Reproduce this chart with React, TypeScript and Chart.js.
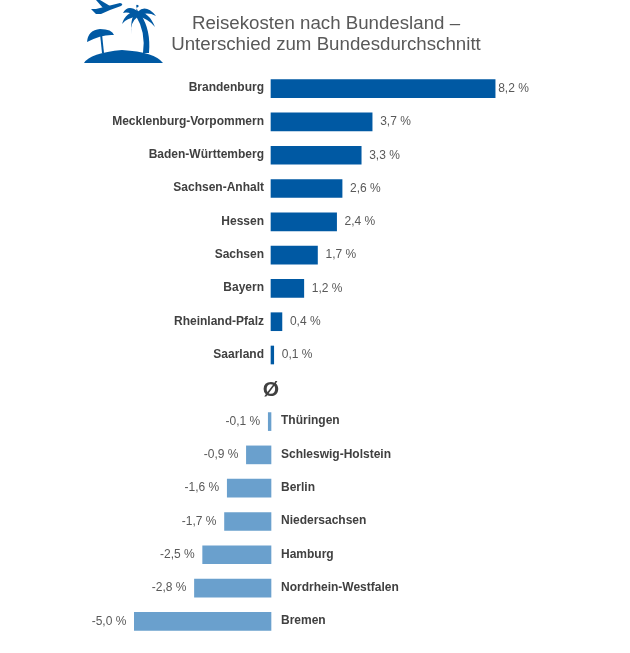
import React, { useEffect, useRef } from 'react';
import { Chart, registerables, Plugin } from 'chart.js';

Chart.register(...registerables);

const titleLines: string[] = ['Reisekosten nach Bundesland –', 'Unterschied zum Bundesdurchschnitt'];

// the empty value is the row that holds the average sign
const categories: string[] = [
  'Brandenburg',
  'Mecklenburg-Vorpommern',
  'Baden-Württemberg',
  'Sachsen-Anhalt',
  'Hessen',
  'Sachsen',
  'Bayern',
  'Rheinland-Pfalz',
  'Saarland',
  'Ø',
  'Thüringen',
  'Schleswig-Holstein',
  'Berlin',
  'Niedersachsen',
  'Hamburg',
  'Nordrhein-Westfalen',
  'Bremen',
];
const values: (number | null)[] = [8.2, 3.7, 3.3, 2.6, 2.4, 1.7, 1.2, 0.4, 0.1, null, -0.1, -0.9, -1.6, -1.7, -2.5, -2.8, -5.0];

const BLUE = '#0059a3';
const LIGHT_BLUE = '#6aa0cd';
const FONT = '"Liberation Sans", Arial, sans-serif';

const drawIcon = (ctx: CanvasRenderingContext2D) => {
  ctx.save();
  ctx.fillStyle = BLUE;
  ctx.strokeStyle = BLUE;

  // island
  ctx.beginPath();
  ctx.moveTo(84, 63);
  ctx.quadraticCurveTo(90, 53, 122, 50);
  ctx.quadraticCurveTo(155, 52, 163, 63);
  ctx.closePath();
  ctx.fill();

  // umbrella
  ctx.beginPath();
  ctx.moveTo(87, 42);
  ctx.quadraticCurveTo(88, 30, 100, 29);
  ctx.quadraticCurveTo(112, 29, 114, 35);
  ctx.quadraticCurveTo(102, 34, 87, 42);
  ctx.fill();
  ctx.lineWidth = 2;
  ctx.beginPath();
  ctx.moveTo(101, 34);
  ctx.lineTo(103, 53);
  ctx.stroke();

  // palm trunk
  ctx.beginPath();
  ctx.moveTo(136, 16);
  ctx.quadraticCurveTo(146, 32, 143, 53);
  ctx.lineTo(149, 53);
  ctx.quadraticCurveTo(151, 30, 141, 15);
  ctx.closePath();
  ctx.fill();

  // palm fronds
  const fronds: number[][] = [
    [138, 14, 128, 8, 123, 13],
    [138, 14, 134, 6, 139, 6],
    [138, 14, 146, 8, 156, 16],
    [138, 14, 126, 15, 122, 24],
    [138, 14, 129, 20, 132, 34],
    [138, 14, 149, 16, 155, 27],
    [138, 14, 142, 18, 146, 28],
  ];
  fronds.forEach(([x0, y0, cx, cy, x1, y1]) => {
    ctx.beginPath();
    ctx.moveTo(x0, y0 + 2.5);
    ctx.quadraticCurveTo(cx, cy + 3, x1, y1);
    ctx.quadraticCurveTo(cx, cy - 4, x0, y0 - 2.5);
    ctx.closePath();
    ctx.fill();
  });

  // plane
  ctx.beginPath();
  ctx.moveTo(91, 9);
  ctx.lineTo(96, 9);
  ctx.lineTo(120, 3);
  ctx.quadraticCurveTo(124, 4, 121, 6);
  ctx.lineTo(110, 10);
  ctx.lineTo(101, 14);
  ctx.lineTo(96, 14);
  ctx.closePath();
  ctx.fill();
  ctx.beginPath();
  ctx.moveTo(96, 0);
  ctx.lineTo(100, 0);
  ctx.lineTo(110, 6);
  ctx.lineTo(103, 8);
  ctx.closePath();
  ctx.fill();
  ctx.restore();
};

// icon, title, state names and value labels
const labelsPlugin: Plugin<'bar'> = {
  id: 'labels',
  afterDatasetsDraw(chart) {
    const { ctx } = chart;
    const x = chart.scales.x;
    const y = chart.scales.y;
    const zero = x.getPixelForValue(0);

    drawIcon(ctx);

    ctx.save();
    ctx.textBaseline = 'middle';
    ctx.textAlign = 'center';
    ctx.fillStyle = '#595959';
    ctx.font = `18.7px ${FONT}`;
    titleLines.forEach((line, i) => ctx.fillText(line, 326, 24 + i * 21));

    categories.forEach((name, i) => {
      const value = values[i];
      const py = y.getPixelForValue(i);
      if (value === null) {
        ctx.textAlign = 'center';
        ctx.fillStyle = '#404040';
        ctx.font = `bold 21px ${FONT}`;
        ctx.fillText(name, zero, py + 2);
        return;
      }
      const px = x.getPixelForValue(value);
      const text = `${value.toFixed(1).replace('.', ',')} %`;

      ctx.font = `bold 12px ${FONT}`;
      ctx.fillStyle = '#404040';
      ctx.textAlign = value < 0 ? 'left' : 'right';
      ctx.fillText(name, value < 0 ? zero + 10 : zero - 7, py - 0.5);

      ctx.font = `12px ${FONT}`;
      ctx.fillStyle = '#595959';
      ctx.textAlign = value < 0 ? 'right' : 'left';
      const gap = value > 8 ? 3 : 8;
      ctx.fillText(text, value < 0 ? px - gap : px + gap, py);
    });
    ctx.restore();
  },
};

export default function App() {
  const chartRef = useRef<HTMLCanvasElement | null>(null);

  useEffect(() => {
    if (!chartRef.current) return;
    const chartInstance = new Chart(chartRef.current, {
      type: 'bar',
      data: {
        labels: categories,
        datasets: [
          {
            data: values,
            backgroundColor: values.map((v) => ((v ?? 0) < 0 ? LIGHT_BLUE : BLUE)),
            barThickness: 18,
          },
        ],
      },
      options: {
        indexAxis: 'y',
        animation: false,
        responsive: false,
        layout: { padding: { left: 107, right: 113, top: 72, bottom: 15 } },
        plugins: {
          legend: { display: false },
          title: { display: false },
          tooltip: { enabled: false },
        },
        scales: {
          x: { display: false, min: -6, max: 9 },
          y: { display: false },
        },
      },
      plugins: [labelsPlugin],
    });

    return () => {
      chartInstance.destroy();
    };
  }, []);

  return (
    <div style={{ position: 'absolute', left: 0, top: 0, width: 630, height: 653, background: '#fff' }}>
      <canvas ref={chartRef} width={630} height={653} style={{ display: 'block' }} />
    </div>
  );
}
